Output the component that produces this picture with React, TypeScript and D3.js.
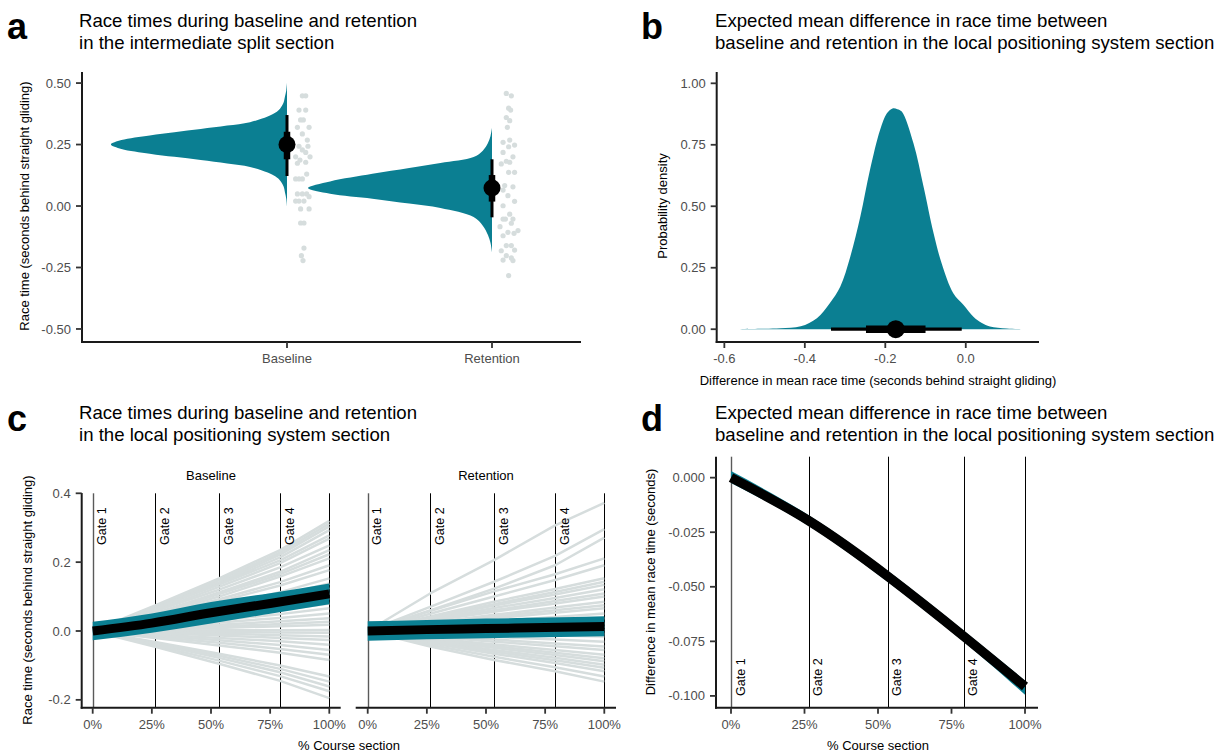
import React from "react";
import * as d3 from "d3";

const FONT = "'Liberation Sans', Arial, Helvetica, sans-serif";
const TEAL = "#0b7f92";
const LIGHT = "#d6dddd";
const TICK_TEXT = "#4d4d4d";
const AXIS = "#1a1a1a";

// ---------------- Panel a data ----------------
const conditions = ["Baseline", "Retention"];
const aTickValues = [-0.5, -0.25, 0, 0.25, 0.5];
const aTickLabels = ["-0.50", "-0.25", "0.00", "0.25", "0.50"];

const baselineSlabValues = [0.0, 0.03, 0.055, 0.08, 0.104, 0.12, 0.136, 0.159, 0.173, 0.187, 0.2, 0.213, 0.232, 0.25, 0.268, 0.287, 0.3, 0.313, 0.327, 0.341, 0.364, 0.38, 0.396, 0.42, 0.445, 0.47, 0.5];
const baselineSlabDensity = [0, 0.004, 0.011, 0.019, 0.038, 0.062, 0.105, 0.201, 0.325, 0.469, 0.612, 0.746, 0.9, 0.957, 0.9, 0.746, 0.612, 0.469, 0.325, 0.201, 0.105, 0.062, 0.038, 0.019, 0.011, 0.004, 0];
const retentionSlabValues = [-0.187, -0.15, -0.118, -0.08, -0.045, -0.008, 0.01, 0.03, 0.05, 0.073, 0.1, 0.131, 0.155, 0.175, 0.199, 0.225, 0.256, 0.285, 0.317];
const retentionSlabDensity = [0, 0.008, 0.022, 0.05, 0.1, 0.28, 0.45, 0.65, 0.88, 1, 0.88, 0.65, 0.45, 0.28, 0.1, 0.05, 0.022, 0.008, 0];

const aMedian = [0.25, 0.073];
const aInnerLow = [0.19, 0.018];
const aInnerHigh = [0.302, 0.126];
const aOuterLow = [0.122, -0.046];
const aOuterHigh = [0.37, 0.19];

const baselineDots = [0.448, 0.448, 0.39, 0.39, 0.35, 0.35, 0.32, 0.32, 0.293, 0.268, 0.243, 0.243, 0.228, 0.218, 0.2, 0.2, 0.187, 0.178, 0.174, 0.13, 0.11, 0.11, 0.11, 0.049, 0.049, 0.049, 0.038, 0.02, 0.02, 0.02, -0.012, -0.012, -0.069, -0.069, -0.171, -0.202, -0.222];
const baselineJitter = [0.46, 0.67, 0.25, 0.67, 0.35, 0.52, 0.15, 0.88, 0.46, 0.77, 0.25, 0.81, 0.46, 0.67, 0.04, 0.94, 0.31, 0.67, 0.15, 0.73, 0.46, 0.04, 0.25, 0.15, 0.46, 0.73, 0.88, 0.25, 0.56, 0.04, 0.35, 0.88, 0.35, 0.56, 0.56, 0.4, 0.5];
const retentionDots = [0.458, 0.448, 0.398, 0.39, 0.36, 0.347, 0.32, 0.268, 0.259, 0.241, 0.248, 0.218, 0.2, 0.171, 0.182, 0.178, 0.137, 0.137, 0.083, 0.078, 0.065, 0.042, 0.019, 0.001, -0.033, -0.053, -0.053, -0.053, -0.07, -0.084, -0.107, -0.111, -0.1, -0.121, -0.161, -0.161, -0.182, -0.179, -0.202, -0.211, -0.222, -0.22, -0.283];
const retentionJitter = [0.35, 0.63, 0.48, 0.59, 0.35, 0.54, 0.41, 0.54, 0.17, 0.48, 0.81, 0.17, 0.72, 0.07, 0.35, 0.54, 0.48, 0.81, 0.26, 0.72, 0.17, 0.44, 0.81, 0.17, 0.54, 0.17, 0.3, 0.72, 0.63, 0.0, 0.44, 0.78, 1.0, 0.17, 0.35, 0.63, 0.07, 0.81, 0.35, 0.63, 0.72, 0.17, 0.48];

// ---------------- Panel b data ----------------
const bTickValuesY = [0, 0.25, 0.5, 0.75, 1];
const bTickLabelsY = ["0.00", "0.25", "0.50", "0.75", "1.00"];
const bTickValuesX = [-0.6, -0.4, -0.2, 0];
const bTickLabelsX = ["-0.6", "-0.4", "-0.2", "0.0"];
const diffDensityX = [-0.58, -0.5, -0.46, -0.41, -0.37, -0.338, -0.312, -0.287, -0.262, -0.238, -0.213, -0.196, -0.182, -0.17, -0.159, -0.13, -0.105, -0.08, -0.06, -0.031, -0.006, 0.019, 0.04, 0.06, 0.102, 0.147];
const diffDensityY = [0, 0.002, 0.004, 0.012, 0.045, 0.106, 0.173, 0.295, 0.458, 0.648, 0.81, 0.878, 0.898, 0.895, 0.885, 0.756, 0.58, 0.39, 0.268, 0.146, 0.099, 0.051, 0.025, 0.011, 0.003, 0];
const bMedian = -0.174;
const bInner = [-0.248, -0.1];
const bOuter = [-0.335, -0.01];

// ---------------- Panel c data ----------------
const facets = ["Baseline", "Retention"];
const cTickValuesY = [-0.2, 0, 0.2, 0.4];
const cTickLabelsY = ["-0.2", "0.0", "0.2", "0.4"];
const pctTickValues = [0, 25, 50, 75, 100];
const pctTickLabels = ["0%", "25%", "50%", "75%", "100%"];
const gatePositions = [0, 26.4, 53.4, 79.2];
const gateLabels = ["Gate 1", "Gate 2", "Gate 3", "Gate 4"];
const finishPosition = 100;
const coursePoints = [0, 26.4, 53.4, 79.2, 100];

// individual participants: values at gate 2, gate 3, gate 4, finish (gate 1 = 0)
const baselineRows = [
  [0.074, 0.153, 0.235, 0.32], [0.07, 0.148, 0.228, 0.312], [0.068, 0.142, 0.222, 0.304],
  [0.066, 0.138, 0.214, 0.293], [0.065, 0.135, 0.205, 0.278], [0.06, 0.128, 0.197, 0.268],
  [0.058, 0.12, 0.185, 0.249], [0.052, 0.112, 0.172, 0.235], [0.05, 0.107, 0.165, 0.223],
  [0.048, 0.1, 0.158, 0.211], [0.044, 0.092, 0.142, 0.191], [0.04, 0.086, 0.132, 0.177],
  [0.036, 0.073, 0.113, 0.153], [0.032, 0.067, 0.103, 0.138], [0.03, 0.06, 0.093, 0.125],
  [0.025, 0.052, 0.08, 0.109], [0.022, 0.046, 0.071, 0.095], [0.019, 0.038, 0.06, 0.08],
  [0.015, 0.032, 0.049, 0.066], [0.012, 0.025, 0.038, 0.051], [0.009, 0.018, 0.028, 0.037],
  [0.006, 0.013, 0.02, 0.027], [0.004, 0.009, 0.014, 0.018], [0.001, 0.002, 0.002, 0.003],
  [-0.001, -0.003, -0.004, -0.005], [-0.004, -0.008, -0.012, -0.016], [-0.006, -0.013, -0.02, -0.026],
  [-0.01, -0.02, -0.03, -0.04], [-0.013, -0.027, -0.041, -0.055], [-0.017, -0.034, -0.052, -0.069],
  [-0.02, -0.042, -0.063, -0.084], [-0.032, -0.066, -0.1, -0.132], [-0.035, -0.072, -0.11, -0.147],
  [-0.038, -0.078, -0.12, -0.161], [-0.042, -0.086, -0.131, -0.175], [-0.046, -0.095, -0.145, -0.195],
];
const retentionRows = [
  [0.109, 0.206, 0.307, 0.372], [0.07, 0.143, 0.218, 0.296], [0.06, 0.123, 0.191, 0.271],
  [0.058, 0.115, 0.165, 0.211], [0.05, 0.1, 0.148, 0.191], [0.042, 0.085, 0.122, 0.153],
  [0.04, 0.078, 0.113, 0.143], [0.038, 0.074, 0.106, 0.134], [0.034, 0.067, 0.096, 0.121],
  [0.031, 0.06, 0.087, 0.109], [0.029, 0.056, 0.08, 0.1], [0.024, 0.047, 0.068, 0.085],
  [0.021, 0.042, 0.06, 0.075], [0.019, 0.037, 0.053, 0.066], [0.014, 0.028, 0.041, 0.051],
  [0.011, 0.021, 0.03, 0.037], [0.006, 0.012, 0.018, 0.022], [0.003, 0.007, 0.01, 0.012],
  [0.001, 0.002, 0.002, 0.003], [-0.002, -0.004, -0.006, -0.008], [-0.005, -0.009, -0.013, -0.016],
  [-0.009, -0.017, -0.025, -0.031], [-0.013, -0.025, -0.036, -0.045], [-0.016, -0.031, -0.044, -0.055],
  [-0.02, -0.039, -0.055, -0.069], [-0.023, -0.044, -0.063, -0.079], [-0.026, -0.049, -0.07, -0.088],
  [-0.029, -0.055, -0.078, -0.098], [-0.032, -0.06, -0.085, -0.107], [-0.035, -0.066, -0.093, -0.117],
  [-0.04, -0.075, -0.105, -0.132], [-0.045, -0.084, -0.117, -0.147],
];
const ribbonPct = [0, 25, 50, 75, 100];
const baselineMean = [0, 0.023, 0.053, 0.08, 0.108];
const baselineLower = [-0.027, -0.005, 0.022, 0.05, 0.078];
const baselineUpper = [0.027, 0.051, 0.084, 0.11, 0.138];
const retentionMean = [0, 0.004, 0.007, 0.01, 0.013];
const retentionLower = [-0.028, -0.024, -0.021, -0.018, -0.015];
const retentionUpper = [0.028, 0.032, 0.036, 0.039, 0.043];

// ---------------- Panel d data ----------------
const dTickValuesY = [-0.1, -0.075, -0.05, -0.025, 0];
const dTickLabelsY = ["-0.100", "-0.075", "-0.050", "-0.025", "0.000"];
const diffPct = [0, 26.4, 53.4, 79.2, 100];
const diffMean = [0, -0.0197, -0.0453, -0.0727, -0.0957];
const diffLower = [-0.0025, -0.022, -0.0478, -0.0752, -0.0995];
const diffUpper = [0.003, -0.0172, -0.0428, -0.0702, -0.093];

// ---------------- helpers ----------------
type Lin = d3.ScaleLinear<number, number>;
const crisp = (v: number) => Math.round(v) + 0.5;

function LeftAxis({ x, y, top, bottom, values, labels }: { x: number; y: Lin; top: number; bottom: number; values: number[]; labels: string[] }) {
  return (
    <g>
      <line x1={x} x2={x} y1={top} y2={bottom + 1} stroke={AXIS} strokeWidth={2} />
      {values.map((v, i) => (
        <g key={i}>
          <line x1={x - 6} x2={x} y1={y(v)} y2={y(v)} stroke="#333" strokeWidth={1.8} />
          <text x={x - 11} y={y(v)} dy="0.35em" textAnchor="end" fontSize={13} fill={TICK_TEXT} fontFamily={FONT}>
            {labels[i]}
          </text>
        </g>
      ))}
    </g>
  );
}

function BottomAxis({ y, left, right, positions, labels }: { y: number; left: number; right: number; positions: number[]; labels: string[] }) {
  return (
    <g>
      <line x1={left - 1} x2={right} y1={y} y2={y} stroke={AXIS} strokeWidth={2} />
      {positions.map((p, i) => (
        <g key={i}>
          <line x1={p} x2={p} y1={y} y2={y + 6} stroke="#333" strokeWidth={1.8} />
          <text x={p} y={y + 21} textAnchor="middle" fontSize={13} fill={TICK_TEXT} fontFamily={FONT}>
            {labels[i]}
          </text>
        </g>
      ))}
    </g>
  );
}

function Title({ x, y, lines }: { x: number; y: number; lines: string[] }) {
  return (
    <text x={x} y={y} fontSize={18.6} fill="#000" fontFamily={FONT}>
      {lines.map((l, i) => (
        <tspan key={i} x={x} dy={i === 0 ? 0 : 22}>
          {l}
        </tspan>
      ))}
    </text>
  );
}

function Letter({ x, y, t }: { x: number; y: number; t: string }) {
  return (
    <text x={x} y={y} fontSize={36} fontWeight="bold" fill="#000" fontFamily={FONT}>
      {t}
    </text>
  );
}

function VTitle({ x, y, t }: { x: number; y: number; t: string }) {
  return (
    <text transform={`translate(${x},${y}) rotate(-90)`} textAnchor="middle" fontSize={13} fill="#000" fontFamily={FONT}>
      {t}
    </text>
  );
}

// ---------------- panels ----------------
function PanelA() {
  const x = d3.scalePoint<string>().domain(conditions).range([287, 492]);
  const y = d3.scaleLinear().domain([-0.553, 0.545]).range([342, 72]);
  const slabPx = 184;
  const slabs = [
    { vals: baselineSlabValues, dens: baselineSlabDensity },
    { vals: retentionSlabValues, dens: retentionSlabDensity },
  ];
  const dots = [
    { vals: baselineDots, jit: baselineJitter, lo: 8, span: 16 },
    { vals: retentionDots, jit: retentionJitter, lo: 8, span: 18 },
  ];
  return (
    <g>
      {slabs.map((s, k) => {
        const cx = x(conditions[k])!;
        const path = d3
          .area<number>()
          .y((v) => y(v))
          .x0(cx)
          .x1((_, i) => cx - Math.max(0, s.dens[i]) * slabPx)
          .curve(d3.curveCatmullRom)(s.vals);
        return <path key={k} d={path || ""} fill={TEAL} />;
      })}
      {dots.map((d, k) => {
        const cx = x(conditions[k])!;
        return d.vals.map((v, i) => (
          <circle key={`${k}-${i}`} cx={cx + d.lo + d.jit[i] * d.span} cy={y(v)} r={2.6} fill={LIGHT} />
        ));
      })}
      {conditions.map((c, k) => {
        const cx = x(c)!;
        return (
          <g key={c}>
            <line x1={cx} x2={cx} y1={y(aOuterLow[k])} y2={y(aOuterHigh[k])} stroke="#000" strokeWidth={3} />
            <line x1={cx} x2={cx} y1={y(aInnerLow[k])} y2={y(aInnerHigh[k])} stroke="#000" strokeWidth={6.5} />
            <circle cx={cx} cy={y(aMedian[k])} r={8.5} fill="#000" />
          </g>
        );
      })}
      <LeftAxis x={82} y={y} top={72} bottom={342} values={aTickValues} labels={aTickLabels} />
      <BottomAxis y={342} left={82} right={581} positions={conditions.map((c) => x(c)!)} labels={conditions} />
      <VTitle x={29} y={206} t="Race time (seconds behind straight gliding)" />
      <Title x={79} y={26.5} lines={["Race times during baseline and retention", "in the intermediate split section"]} />
      <Letter x={7} y={39} t="a" />
    </g>
  );
}

function PanelB() {
  const x = d3.scaleLinear().domain([-0.619, 0.182]).range([716.7, 1039]);
  const y = d3.scaleLinear().domain([-0.052, 1.046]).range([342, 72]);
  const area = d3
    .area<number>()
    .x((v) => x(v))
    .y0(y(0))
    .y1((_, i) => y(Math.max(0, diffDensityY[i])))
    .curve(d3.curveCatmullRom)(diffDensityX);
  return (
    <g>
      <path d={area || ""} fill={TEAL} />
      <line x1={x(bOuter[0])} x2={x(bOuter[1])} y1={y(0)} y2={y(0)} stroke="#000" strokeWidth={3.3} />
      <line x1={x(bInner[0])} x2={x(bInner[1])} y1={y(0)} y2={y(0)} stroke="#000" strokeWidth={7.5} />
      <circle cx={x(bMedian)} cy={y(0)} r={9} fill="#000" />
      <LeftAxis x={716.7} y={y} top={72} bottom={342} values={bTickValuesY} labels={bTickLabelsY} />
      <BottomAxis y={342} left={716.7} right={1039} positions={bTickValuesX.map((v) => x(v))} labels={bTickLabelsX} />
      <VTitle x={667} y={206} t="Probability density" />
      <text x={878} y={385} textAnchor="middle" fontSize={13} fill="#000" fontFamily={FONT}>
        Difference in mean race time (seconds behind straight gliding)
      </text>
      <Title x={715} y={26.5} lines={["Expected mean difference in race time between", "baseline and retention in the local positioning system section"]} />
      <Letter x={641} y={39} t="b" />
    </g>
  );
}

function GateLines({ x, top, bottom }: { x: Lin; top: number; bottom: number }) {
  return (
    <g>
      {gatePositions.concat([finishPosition]).map((p, i) => (
        <line key={i} x1={crisp(x(p))} x2={crisp(x(p))} y1={top} y2={bottom} stroke={p === 0 ? "#5a5a5a" : "#000"} strokeWidth={p === 0 ? 1.4 : 1} />
      ))}
    </g>
  );
}

function GateLabels({ x, yPos }: { x: Lin; yPos: number }) {
  return (
    <g>
      {gatePositions.map((p, i) => (
        <text key={i} transform={`translate(${x(p) + 13.5},${yPos}) rotate(-90)`} fontSize={12.5} fill="#000" fontFamily={FONT}>
          {gateLabels[i]}
        </text>
      ))}
    </g>
  );
}

function PanelC() {
  const y = d3.scaleLinear().domain([-0.2228, 0.4]).range([707.7, 493.3]);
  const specs = [
    { range: [92.7, 329.3], axis: [81.7, 340.7], rows: baselineRows, mean: baselineMean, lo: baselineLower, hi: baselineUpper },
    { range: [367.7, 604.3], axis: [356.7, 616], rows: retentionRows, mean: retentionMean, lo: retentionLower, hi: retentionUpper },
  ];
  return (
    <g>
      {specs.map((s, k) => {
        const x = d3.scaleLinear().domain([0, 100]).range(s.range);
        const line = d3
          .line<number>()
          .x((_, i) => x(coursePoints[i]))
          .y((v) => y(v));
        const ribbon = d3
          .area<number>()
          .x((p) => x(p))
          .y0((_, i) => y(s.lo[i]))
          .y1((_, i) => y(s.hi[i]))
          .curve(d3.curveMonotoneX)(ribbonPct);
        const meanLine = d3
          .line<number>()
          .x((p) => x(p))
          .y((_, i) => y(s.mean[i]))
          .curve(d3.curveMonotoneX)(ribbonPct);
        return (
          <g key={k}>
            <GateLines x={x} top={493.3} bottom={707.7} />
            {s.rows.map((r, i) => (
              <path key={i} d={line([0, ...r]) || ""} fill="none" stroke={LIGHT} strokeWidth={2.5} strokeLinejoin="round" />
            ))}
            <path d={ribbon || ""} fill={TEAL} />
            <path d={meanLine || ""} fill="none" stroke="#000" strokeWidth={9} />
            <GateLabels x={x} yPos={y(0.25)} />
            <BottomAxis y={707.7} left={s.axis[0]} right={s.axis[1]} positions={pctTickValues.map((v) => x(v))} labels={pctTickLabels} />
            <text x={x(50)} y={480} textAnchor="middle" fontSize={13} fill="#000" fontFamily={FONT}>
              {facets[k]}
            </text>
          </g>
        );
      })}
      <LeftAxis x={81.7} y={y} top={493} bottom={707.7} values={cTickValuesY} labels={cTickLabelsY} />
      <VTitle x={32} y={600} t="Race time (seconds behind straight gliding)" />
      <text x={349} y={750} textAnchor="middle" fontSize={13} fill="#000" fontFamily={FONT}>
        % Course section
      </text>
      <Title x={79} y={418.5} lines={["Race times during baseline and retention", "in the local positioning system section"]} />
      <Letter x={7} y={431} t="c" />
    </g>
  );
}

function PanelD() {
  const x = d3.scaleLinear().domain([0, 100]).range([731, 1025]);
  const y = d3.scaleLinear().domain([-0.1054, 0.0096]).range([707.7, 456.7]);
  const ribbon = d3
    .area<number>()
    .x((p) => x(p))
    .y0((_, i) => y(diffLower[i]))
    .y1((_, i) => y(diffUpper[i]))
    .curve(d3.curveNatural)(diffPct);
  const meanLine = d3
    .line<number>()
    .x((p) => x(p))
    .y((_, i) => y(diffMean[i]))
    .curve(d3.curveNatural)(diffPct);
  return (
    <g>
      <GateLines x={x} top={456.7} bottom={707.7} />
      <path d={ribbon || ""} fill={TEAL} />
      <path d={meanLine || ""} fill="none" stroke="#000" strokeWidth={9.5} />
      <GateLabels x={x} yPos={y(-0.1)} />
      <LeftAxis x={716} y={y} top={456.7} bottom={707.7} values={dTickValuesY} labels={dTickLabelsY} />
      <BottomAxis y={707.7} left={716} right={1038} positions={pctTickValues.map((v) => x(v))} labels={pctTickLabels} />
      <VTitle x={655} y={582} t="Difference in mean race time (seconds)" />
      <text x={878} y={750} textAnchor="middle" fontSize={13} fill="#000" fontFamily={FONT}>
        % Course section
      </text>
      <Title x={715} y={418.5} lines={["Expected mean difference in race time between", "baseline and retention in the local positioning system section"]} />
      <Letter x={641} y={431} t="d" />
    </g>
  );
}

export default function App() {
  return (
    <svg width={1226} height={755} viewBox="0 0 1226 755" style={{ position: "absolute", left: 0, top: 0, background: "#fff" }}>
      <rect x={0} y={0} width={1226} height={755} fill="#fff" />
      <PanelA />
      <PanelB />
      <PanelC />
      <PanelD />
    </svg>
  );
}
